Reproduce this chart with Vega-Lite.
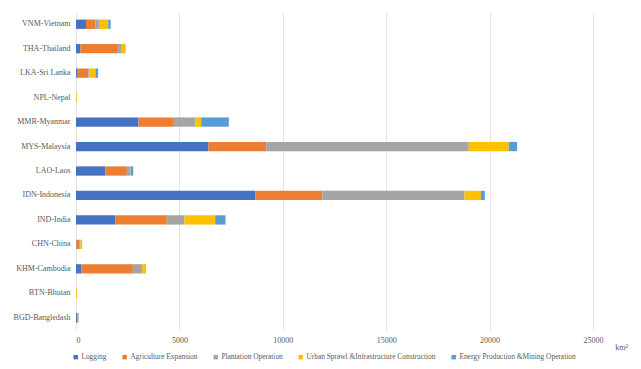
{
  "$schema": "https://vega.github.io/schema/vega-lite/v6.json",
  "autosize": {"type": "none"},
  "width": 548,
  "height": 318,
  "padding": {"left": 76, "top": 12, "right": 17, "bottom": 39},
  "background": "#ffffff",
  "data": {
    "values": [
      {"country": "VNM-Vietnam", "Logging": 484, "Agriculture Expansion": 465, "Plantation Operation": 164, "Urban Sprawl &Infrastructure Construction": 450, "Energy Production &Mining Operation": 111},
      {"country": "THA-Thailand", "Logging": 218, "Agriculture Expansion": 1804, "Plantation Operation": 193, "Urban Sprawl &Infrastructure Construction": 161, "Energy Production &Mining Operation": 20},
      {"country": "LKA-Sri Lanka", "Logging": 50, "Agriculture Expansion": 540, "Plantation Operation": 60, "Urban Sprawl &Infrastructure Construction": 290, "Energy Production &Mining Operation": 130},
      {"country": "NPL-Nepal", "Logging": 0, "Agriculture Expansion": 10, "Plantation Operation": 0, "Urban Sprawl &Infrastructure Construction": 40, "Energy Production &Mining Operation": 0},
      {"country": "MMR-Myanmar", "Logging": 3022, "Agriculture Expansion": 1708, "Plantation Operation": 1032, "Urban Sprawl &Infrastructure Construction": 290, "Energy Production &Mining Operation": 1338},
      {"country": "MYS-Malaysia", "Logging": 6407, "Agriculture Expansion": 2789, "Plantation Operation": 9797, "Urban Sprawl &Infrastructure Construction": 1934, "Energy Production &Mining Operation": 403},
      {"country": "LAO-Laos", "Logging": 1427, "Agriculture Expansion": 1032, "Plantation Operation": 161, "Urban Sprawl &Infrastructure Construction": 20, "Energy Production &Mining Operation": 129},
      {"country": "IDN-Indonesia", "Logging": 8680, "Agriculture Expansion": 3225, "Plantation Operation": 6882, "Urban Sprawl &Infrastructure Construction": 790, "Energy Production &Mining Operation": 193},
      {"country": "IND-India", "Logging": 1910, "Agriculture Expansion": 2482, "Plantation Operation": 855, "Urban Sprawl &Infrastructure Construction": 1483, "Energy Production &Mining Operation": 500},
      {"country": "CHN-China", "Logging": 20, "Agriculture Expansion": 160, "Plantation Operation": 40, "Urban Sprawl &Infrastructure Construction": 80, "Energy Production &Mining Operation": 0},
      {"country": "KHM-Cambodia", "Logging": 266, "Agriculture Expansion": 2482, "Plantation Operation": 452, "Urban Sprawl &Infrastructure Construction": 145, "Energy Production &Mining Operation": 30},
      {"country": "BTN-Bhutan", "Logging": 0, "Agriculture Expansion": 10, "Plantation Operation": 0, "Urban Sprawl &Infrastructure Construction": 40, "Energy Production &Mining Operation": 0},
      {"country": "BGD-Bangledash", "Logging": 60, "Agriculture Expansion": 30, "Plantation Operation": 30, "Urban Sprawl &Infrastructure Construction": 15, "Energy Production &Mining Operation": 5}
    ]
  },
  "transform": [
    {"fold": ["Logging", "Agriculture Expansion", "Plantation Operation", "Urban Sprawl &Infrastructure Construction", "Energy Production &Mining Operation"], "as": ["cause", "value"]},
    {"window": [{"op": "row_number", "as": "k"}], "groupby": ["country"]}
  ],
  "mark": {"type": "bar"},
  "encoding": {
    "y": {
      "field": "country",
      "type": "nominal",
      "sort": ["VNM-Vietnam", "THA-Thailand", "LKA-Sri Lanka", "NPL-Nepal", "MMR-Myanmar", "MYS-Malaysia", "LAO-Laos", "IDN-Indonesia", "IND-India", "CHN-China", "KHM-Cambodia", "BTN-Bhutan", "BGD-Bangledash"],
      "scale": {"paddingInner": 0.62, "paddingOuter": 0.31},
      "axis": {"title": null, "domain": false, "ticks": false, "labelPadding": 6, "labelFont": "Liberation Serif", "labelFontSize": 8, "labelColor": "#595959"}
    },
    "x": {
      "field": "value",
      "type": "quantitative",
      "stack": "zero",
      "scale": {"domain": [0, 26500], "nice": false},
      "axis": {
        "values": [0, 5000, 10000, 15000, 20000, 25000],
        "format": "d",
        "domain": false,
        "ticks": false,
        "grid": true,
        "gridColor": "#e3e3e3",
        "labelPadding": 6,
        "labelFont": "Liberation Serif",
        "labelFontSize": 8,
        "labelColor": "#595959",
        "title": "km²",
        "titleFont": "Liberation Serif",
        "titleFontSize": 8,
        "titleFontWeight": "normal",
        "titleColor": "#595959",
        "titleX": 545,
        "titleY": 17,
        "titleBaseline": "middle",
        "titleAlign": "center"
      }
    },
    "color": {
      "field": "cause",
      "type": "nominal",
      "sort": ["Logging", "Agriculture Expansion", "Plantation Operation", "Urban Sprawl &Infrastructure Construction", "Energy Production &Mining Operation"],
      "scale": {
        "domain": ["Logging", "Agriculture Expansion", "Plantation Operation", "Urban Sprawl &Infrastructure Construction", "Energy Production &Mining Operation"],
        "range": ["#4472C4", "#ED7D31", "#A5A5A5", "#FFC000", "#5B9BD5"]
      },
      "legend": {
        "title": null,
        "orient": "none",
        "direction": "horizontal",
        "legendX": -4,
        "legendY": 341,
        "symbolType": "square",
        "symbolSize": 20,
        "symbolStrokeWidth": 0,
        "labelFont": "Liberation Serif",
        "labelFontSize": 7.4,
        "labelColor": "#595959",
        "labelOffset": 2,
        "columnPadding": 14
      }
    },
    "order": {"field": "k"}
  },
  "config": {"view": {"stroke": null}, "font": "Liberation Serif"}
}
